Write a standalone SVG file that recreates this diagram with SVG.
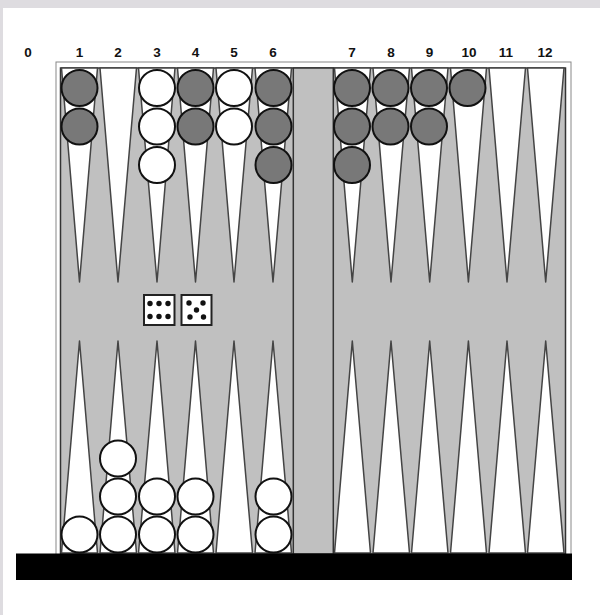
<svg xmlns="http://www.w3.org/2000/svg" width="600" height="615" viewBox="0 0 600 615">
<style>
.lbl{font-family:"Liberation Sans",Arial,sans-serif;font-weight:bold;font-size:13.5px;fill:#111;text-anchor:middle}
.pt{fill:#fff;stroke:#444;stroke-width:1.5;stroke-linejoin:round}
.dk{fill:#787878;stroke:#111;stroke-width:2}
.wh{fill:#fff;stroke:#111;stroke-width:2}
.die{fill:#fff;stroke:#222;stroke-width:2}
.pip{fill:#111}
</style>
<rect width="600" height="615" fill="#fff"/>
<rect x="0" y="0" width="600" height="8" fill="#dedce0"/>
<rect x="0" y="0" width="3" height="615" fill="#dedce0"/>
<g id="labels">
<text class="lbl" x="28" y="57">0</text>
<text class="lbl" x="79.5" y="57">1</text>
<text class="lbl" x="118" y="57">2</text>
<text class="lbl" x="157" y="57">3</text>
<text class="lbl" x="195.5" y="57">4</text>
<text class="lbl" x="234" y="57">5</text>
<text class="lbl" x="273" y="57">6</text>
<text class="lbl" x="352" y="57">7</text>
<text class="lbl" x="391" y="57">8</text>
<text class="lbl" x="429.5" y="57">9</text>
<text class="lbl" x="469" y="57">10</text>
<text class="lbl" x="506" y="57">11</text>
<text class="lbl" x="545" y="57">12</text>
</g>
<g id="board">
<rect x="56" y="62" width="515" height="493" fill="#fff" stroke="#888" stroke-width="1"/>
<rect x="60.5" y="68" width="505" height="486" fill="#c0c0c0" stroke="#333" stroke-width="1.5"/>
</g>
<g id="points">
<polygon class="pt" points="61.5,68 97.5,68 79.5,282"/>
<polygon class="pt" points="100,68 136.5,68 118,282"/>
<polygon class="pt" points="138.5,68 175,68 157,282"/>
<polygon class="pt" points="177.5,68 213.5,68 195.5,282"/>
<polygon class="pt" points="216,68 252.5,68 234,282"/>
<polygon class="pt" points="255,68 291.5,68 273,282"/>
<polygon class="pt" points="334.5,68 370.5,68 352.3,282"/>
<polygon class="pt" points="373,68 409.5,68 391,282"/>
<polygon class="pt" points="411.5,68 448,68 429.7,282"/>
<polygon class="pt" points="450.5,68 486.5,68 468.4,282"/>
<polygon class="pt" points="489,68 525.5,68 507,282"/>
<polygon class="pt" points="527.5,68 564,68 545.7,282"/>
<polygon class="pt" points="61.5,553 97.5,553 79.5,341"/>
<polygon class="pt" points="100,553 136.5,553 118,341"/>
<polygon class="pt" points="138.5,553 175,553 157,341"/>
<polygon class="pt" points="177.5,553 213.5,553 195.5,341"/>
<polygon class="pt" points="216,553 252.5,553 234,341"/>
<polygon class="pt" points="255,553 291.5,553 273,341"/>
<polygon class="pt" points="334.5,553 370.5,553 352.3,341"/>
<polygon class="pt" points="373,553 409.5,553 391,341"/>
<polygon class="pt" points="411.5,553 448,553 429.7,341"/>
<polygon class="pt" points="450.5,553 486.5,553 468.4,341"/>
<polygon class="pt" points="489,553 525.5,553 507,341"/>
<polygon class="pt" points="527.5,553 564,553 545.7,341"/>
</g>
<g id="bar">
<rect x="293.3" y="68" width="40" height="486" fill="#c0c0c0" stroke="#333" stroke-width="1.5"/>
</g>
<g id="checkers">
<circle class="dk" cx="79.5" cy="88" r="18"/>
<circle class="dk" cx="79.5" cy="126.5" r="18"/>
<circle class="wh" cx="157" cy="88" r="18"/>
<circle class="wh" cx="157" cy="126.5" r="18"/>
<circle class="wh" cx="157" cy="165" r="18"/>
<circle class="dk" cx="195.5" cy="88" r="18"/>
<circle class="dk" cx="195.5" cy="126.5" r="18"/>
<circle class="wh" cx="234" cy="88" r="18"/>
<circle class="wh" cx="234" cy="126.5" r="18"/>
<circle class="dk" cx="273.5" cy="88" r="18"/>
<circle class="dk" cx="273.5" cy="126.5" r="18"/>
<circle class="dk" cx="273.5" cy="165" r="18"/>
<circle class="dk" cx="352" cy="88" r="18"/>
<circle class="dk" cx="352" cy="126.5" r="18"/>
<circle class="dk" cx="352" cy="165" r="18"/>
<circle class="dk" cx="390.5" cy="88" r="18"/>
<circle class="dk" cx="390.5" cy="126.5" r="18"/>
<circle class="dk" cx="429" cy="88" r="18"/>
<circle class="dk" cx="429" cy="126.5" r="18"/>
<circle class="dk" cx="467.5" cy="88" r="18"/>
<circle class="wh" cx="79.5" cy="534.5" r="18"/>
<circle class="wh" cx="118" cy="534.5" r="18"/>
<circle class="wh" cx="118" cy="496.5" r="18"/>
<circle class="wh" cx="118" cy="458.5" r="18"/>
<circle class="wh" cx="157" cy="534.5" r="18"/>
<circle class="wh" cx="157" cy="496.5" r="18"/>
<circle class="wh" cx="195.5" cy="534.5" r="18"/>
<circle class="wh" cx="195.5" cy="496.5" r="18"/>
<circle class="wh" cx="273.5" cy="534.5" r="18"/>
<circle class="wh" cx="273.5" cy="496.5" r="18"/>
</g>
<g id="dice">
<rect class="die" x="144" y="295" width="30.5" height="30"/>
<circle class="pip" cx="150" cy="303.5" r="2.7"/>
<circle class="pip" cx="159" cy="303.5" r="2.7"/>
<circle class="pip" cx="168" cy="303.5" r="2.7"/>
<circle class="pip" cx="150" cy="316.5" r="2.7"/>
<circle class="pip" cx="159" cy="316.5" r="2.7"/>
<circle class="pip" cx="168" cy="316.5" r="2.7"/>
<rect class="die" x="181.5" y="295" width="30" height="30"/>
<circle class="pip" cx="189" cy="303" r="2.7"/>
<circle class="pip" cx="203" cy="303" r="2.7"/>
<circle class="pip" cx="196.5" cy="310" r="2.7"/>
<circle class="pip" cx="190" cy="317" r="2.7"/>
<circle class="pip" cx="203.5" cy="317" r="2.7"/>
</g>
<rect id="base" x="16" y="553.5" width="556" height="26.5" fill="#000"/>
</svg>
